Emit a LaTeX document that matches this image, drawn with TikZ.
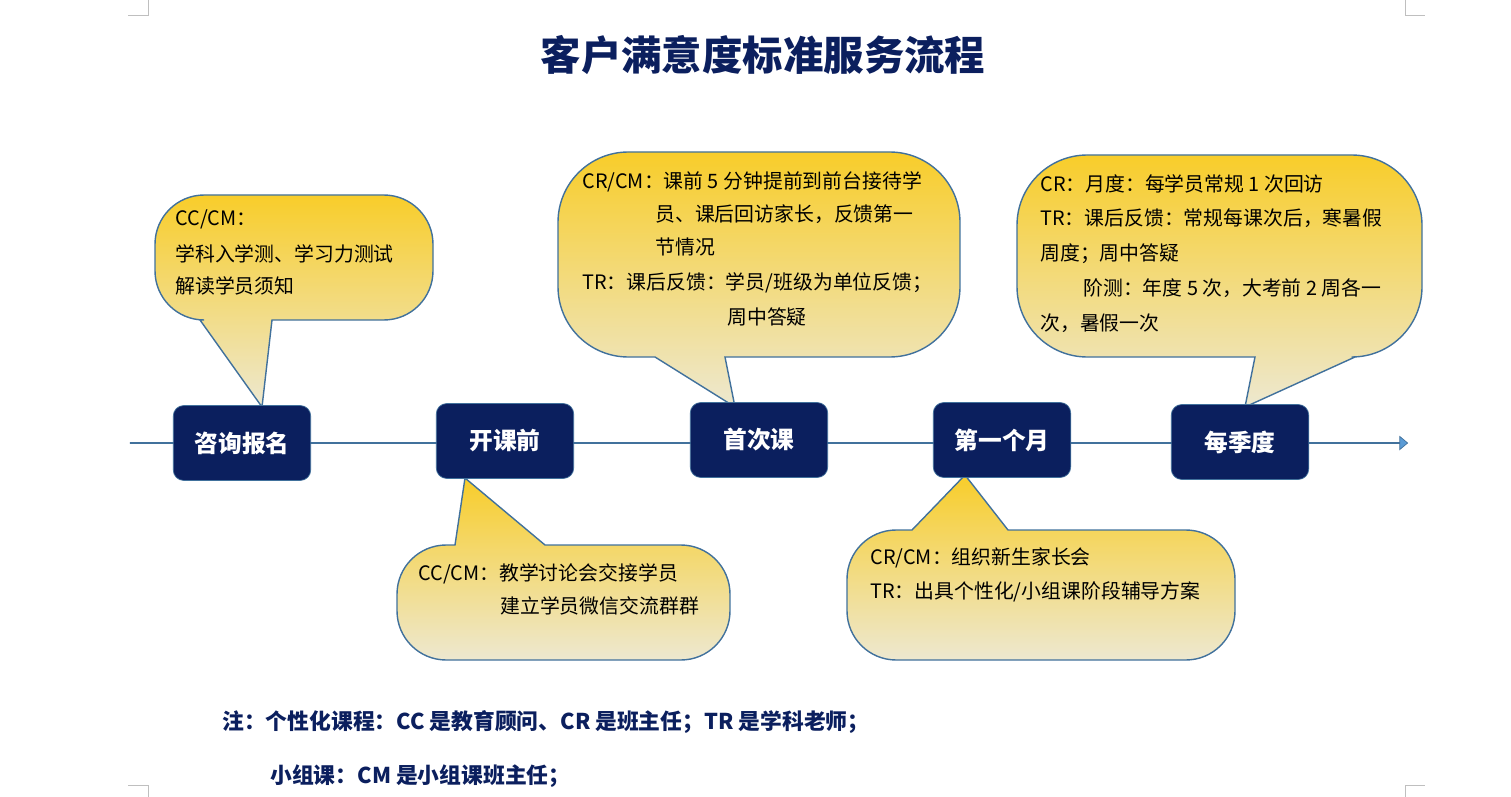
\documentclass[tikz,border=0pt]{standalone}
\usepackage{fontspec}
\setmainfont{Noto Sans CJK SC}
\usetikzlibrary{shapes.arrows}
\definecolor{navy}{HTML}{0B1F5E}
\definecolor{edge}{HTML}{41719C}
\definecolor{ytop}{HTML}{F8CD2A}
\definecolor{ybot}{HTML}{EDE8D0}
\definecolor{barfill}{HTML}{5B9BD5}
\begin{document}
\begin{tikzpicture}[x=0.02cm,y=-0.02cm,
  call/.style={draw=edge,line width=0.8pt,top color=ytop,bottom color=ybot},
  stage/.style={draw=edge,fill=navy,rounded corners=6pt,minimum width=2.75cm,minimum height=1.5cm,text=white,font=\fontsize{13.5}{15}\selectfont\bfseries},
  txt/.style={anchor=base west,inner sep=0pt,font=\fontsize{11.3}{13}\selectfont,text=black},
  note/.style={anchor=base west,inner sep=0pt,font=\fontsize{12.4}{14}\selectfont\bfseries,text=navy}]
\useasboundingbox (0,0) rectangle (1511,797);
% crop marks
\draw[gray!50,line width=0.4pt] (148,0)--(148,15)--(128,15) (1405,0)--(1405,15)--(1425,15) (148,797)--(148,785)--(128,785) (1405,797)--(1405,785)--(1425,785);
% title
\node[font=\fontsize{23}{26}\selectfont\bfseries,text=navy] (title) at (763,55) {客户满意度标准服务流程};
% timeline arrow
\node[single arrow,draw=edge,fill=barfill,minimum height=25.55cm,minimum width=0.26cm,single arrow head extend=0.1cm,single arrow tip angle=80,inner sep=0pt,anchor=west] (bar) at (130,443) {};
% callouts
\path[call] (262,407) -- (200,320) [rounded corners=28pt] -- (155,320) -- (155,195) -- (433,195) -- (433,320) [sharp corners] -- (272,320) -- cycle;
\path[call] (735,407) -- (725,357) [rounded corners=40pt] -- (960,357) -- (960,152) -- (558,152) -- (558,357) [sharp corners] -- (655,357) -- cycle;
\path[call] (1245,407) -- (1255,357) [rounded corners=40pt] -- (1017,357) -- (1017,155) -- (1422,155) -- (1422,357) [sharp corners] -- (1355,357) -- cycle;
\path[call] (465,478) -- (545,545) [rounded corners=28pt] -- (730,545) -- (730,660) -- (397,660) -- (397,545) [sharp corners] -- (455,545) -- cycle;
\path[call] (965,475) -- (1008,530) [rounded corners=28pt] -- (1235,530) -- (1235,660) -- (847,660) -- (847,530) [sharp corners] -- (912,530) -- cycle;
% stages
\node[stage] (s1) at (242,443) {咨询报名};
\node[stage] (s2) at (505,441) {开课前};
\node[stage] (s3) at (759,440) {首次课};
\node[stage] (s4) at (1002,440) {第一个月};
\node[stage] (s5) at (1240,442) {每季度};
% texts
\node[txt] (a1) at (175,226) {CC/CM：};
\node[txt] (a2) at (175,261) {学科入学测、学习力测试};
\node[txt] (a3) at (175,294) {解读学员须知};
\node[txt] (b1) at (582,189) {CR/CM：课前 5 分钟提前到前台接待学};
\node[txt] (b2) at (655,222) {员、课后回访家长，反馈第一};
\node[txt] (b3) at (655,255) {节情况};
\node[txt] (b4) at (582,290) {TR：课后反馈：学员/班级为单位反馈；};
\node[txt] (b5) at (727,324) {周中答疑};
\node[txt] (c1) at (1040,192) {CR：月度：每学员常规 1 次回访};
\node[txt] (c2) at (1040,226) {TR：课后反馈：常规每课次后，寒暑假};
\node[txt] (c3) at (1040,260) {周度；周中答疑};
\node[txt] (c4) at (1083,296) {阶测：年度 5 次，大考前 2 周各一};
\node[txt] (c5) at (1040,330) {次，暑假一次};
\node[txt] (d1) at (418,580) {CC/CM：教学讨论会交接学员};
\node[txt] (d2) at (500,613) {建立学员微信交流群群};
\node[txt] (e1) at (870,564) {CR/CM：组织新生家长会};
\node[txt] (e2) at (870,598) {TR：出具个性化/小组课阶段辅导方案};
% notes
\node[note] (n1) at (222,729) {注：个性化课程：CC 是教育顾问、CR 是班主任；TR 是学科老师；};
\node[note] (n2) at (270,783) {小组课：CM 是小组课班主任；};
\end{tikzpicture}
\end{document}
